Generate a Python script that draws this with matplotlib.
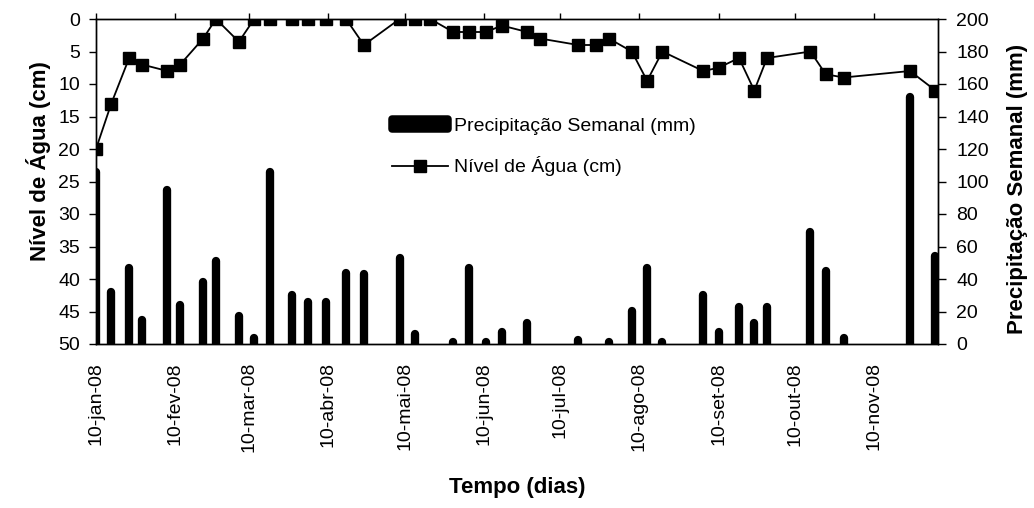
import numpy as np
import matplotlib.pyplot as plt
from matplotlib.patches import Patch

plt.rcParams['font.family'] = ['Liberation Sans', 'DejaVu Sans']

# datas das leituras (2008)
datas = ['2008-01-10', '2008-01-16', '2008-01-23', '2008-01-28', '2008-02-07',
         '2008-02-12', '2008-02-21', '2008-02-26', '2008-03-06', '2008-03-12',
         '2008-03-18', '2008-03-27', '2008-04-02', '2008-04-09', '2008-04-17',
         '2008-04-24', '2008-05-08', '2008-05-14', '2008-05-20', '2008-05-29',
         '2008-06-04', '2008-06-11', '2008-06-17', '2008-06-27', '2008-07-02',
         '2008-07-17', '2008-07-24', '2008-07-29', '2008-08-07', '2008-08-13',
         '2008-08-19', '2008-09-04', '2008-09-10', '2008-09-18', '2008-09-24',
         '2008-09-29', '2008-10-16', '2008-10-22', '2008-10-29', '2008-11-24',
         '2008-12-04']

# nivel de agua (cm)
nivel_agua = [20, 13, 6, 7, 8, 7, 3, 0, 3.5, 0,
              0, 0, 0, 0, 0, 4, 0, 0, 0, 2,
              2, 2, 1, 2, 3, 4, 4, 3, 5, 9.5,
              5, 8, 7.5, 6, 11, 6, 5, 8.5, 9, 8,
              11]

# precipitacao semanal (mm), 0 = sem barra
precipitacao = [106, 32, 47, 15, 95, 24, 38, 51, 17, 3.5,
                106, 30, 26, 26, 44, 43, 53, 6, 0, 1.5,
                47, 1.5, 7.5, 13, 0, 2.5, 0, 1.5, 20.5, 47,
                1.5, 30, 7.5, 23, 13, 23, 69, 45, 3.5, 152,
                54]

meses = ['jan', 'fev', 'mar', 'abr', 'mai', 'jun', 'jul', 'ago', 'set', 'out', 'nov']

x = np.array(datas, dtype='datetime64[D]')
chuva = np.array(precipitacao, dtype=float)
tem_chuva = chuva > 0

fig = plt.figure(figsize=(10.34, 5.08), dpi=100)
ax = fig.add_axes([96/1034, 1 - 344/508, 842/1034, 325/508])
ax2 = ax.twinx()

# barras de chuva no eixo da direita (pontas arredondadas)
ax2.vlines(x[tem_chuva], 0, chuva[tem_chuva], colors='black', linewidth=6,
           capstyle='round')
# nivel de agua no eixo da esquerda (invertido)
ax.plot(x, nivel_agua, color='black', linewidth=1.3, marker='s', markersize=8.5,
        label='Nível de Água (cm)')

ax.set_xlim(np.datetime64('2008-01-10'), np.datetime64('2008-12-05'))
ticks = [np.datetime64('2008-%02d-10' % (i + 1)) for i in range(len(meses))]
ax.set_xticks(ticks, ['10-%s-08' % m for m in meses], rotation=90)
ax.tick_params(axis='x', bottom=False, top=True, labelbottom=True, labeltop=False,
               direction='out', length=4, width=1, pad=9, labelsize=14)

ax.set_ylim(50, 0)
ax.set_yticks(range(0, 51, 5))
ax.tick_params(axis='y', direction='out', length=5, width=1, pad=6.5, labelsize=14)

ax2.set_ylim(0, 200)
ax2.set_yticks(range(0, 201, 20))
ax2.tick_params(axis='y', direction='out', length=5.5, width=1, pad=7.5, labelsize=14)

for a in (ax, ax2):
    for s in a.spines.values():
        s.set_linewidth(1)

ax.set_ylabel('Nível de Água (cm)', fontsize=16, fontweight='bold', va='center')
ax.yaxis.set_label_coords((38 - 96)/842, (344 - 161.5)/325)
ax2.set_ylabel('Precipitação Semanal (mm)', fontsize=16, fontweight='bold', va='center')
ax2.yaxis.set_label_coords((1018 - 96)/842, (344 - 188.5)/325)
ax.set_xlabel('Tempo (dias)', fontsize=16, fontweight='bold', va='center')
ax.xaxis.set_label_coords(0.5, (344 - 487)/325)

# legenda
barra = Patch(facecolor='black', edgecolor='black', linewidth=5.4, joinstyle='round',
              label='Precipitação Semanal (mm)')
h2, l2 = ax.get_legend_handles_labels()
leg = ax2.legend([barra] + h2, ['Precipitação Semanal (mm)'] + l2, loc='upper left',
                 bbox_to_anchor=((392 - 96)/842, (344 - 118)/325),
                 frameon=False, fontsize=14, handlelength=2.9, handleheight=0.45,
                 handletextpad=0.3, labelspacing=1.1, borderpad=0, borderaxespad=0)
leg.legend_handles[0].set_joinstyle('round')

plt.savefig('out.png', dpi=100)
